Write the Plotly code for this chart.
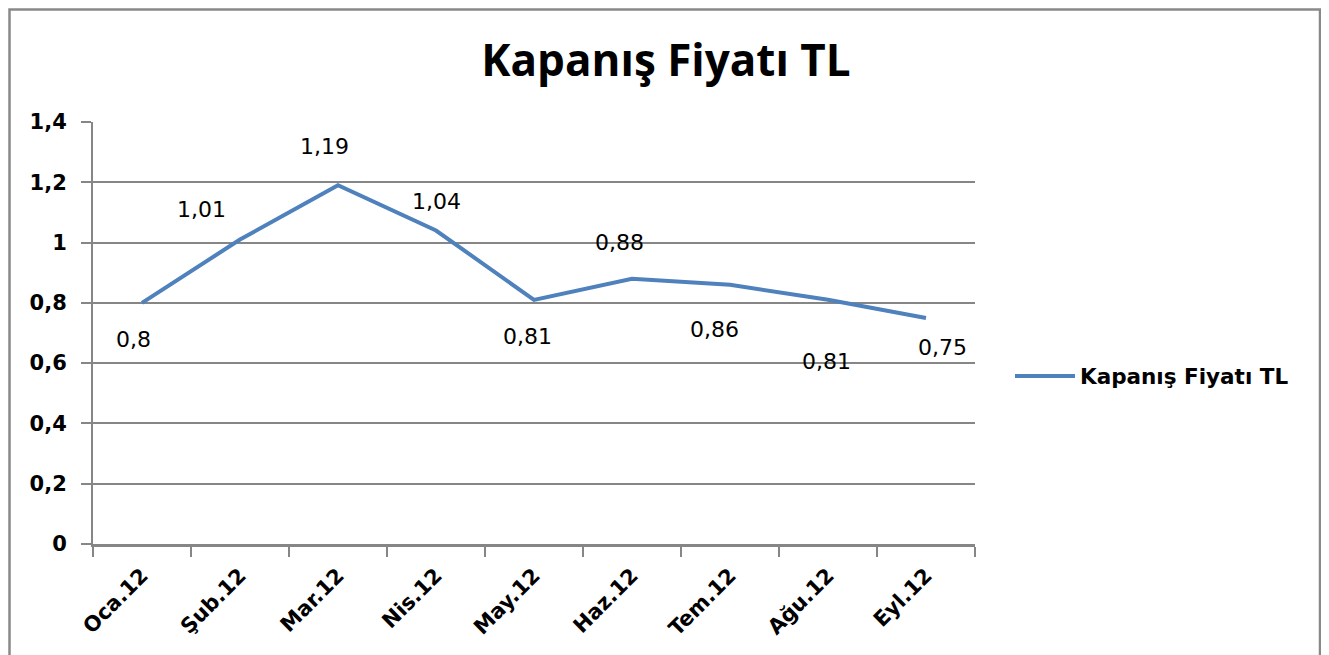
import plotly.graph_objects as go

months = ["Oca.12", "Şub.12", "Mar.12", "Nis.12", "May.12", "Haz.12", "Tem.12", "Ağu.12", "Eyl.12"]
prices = [0.80, 1.01, 1.19, 1.04, 0.81, 0.88, 0.86, 0.81, 0.75]
label_texts = ["0,8", "1,01", "1,19", "1,04", "0,81", "0,88", "0,86", "0,81", "0,75"]
series_name = "Kapanış Fiyatı TL"
title_text = "Kapanış Fiyatı TL"
y_ticks = [0, 0.2, 0.4, 0.6, 0.8, 1.0, 1.2, 1.4]

# data-label offsets in pixels (right / up) relative to each point
label_dx = [-9, -39, -14, 0, -7, -13, -16, -2, 16]
label_dy = [-37, 30, 39, 29, -37, 36, -45, -62, -30]

# page is offset by the 8px body margin
W, H = 1321, 647
L, T = 85, 114
pw, ph = 882, 422
R, B = W - L - pw, H - T - ph

lab_font = "DejaVu Sans"
title_font = "Open Sans"
grey = "#868686"

fig = go.Figure()
fig.add_trace(go.Scatter(
    x=months, y=prices, mode="lines", name="<b>" + series_name + "</b>",
    line=dict(color="#4F81BD", width=4),
))

for m, v, t, dx, dy in zip(months, prices, label_texts, label_dx, label_dy):
    fig.add_annotation(x=m, y=v, text=t, showarrow=False, xshift=dx, yshift=dy,
                       font=dict(family=lab_font, size=22, color="#000000"))

def px_x(x):
    return (x - 8 - L) / pw

def px_y(y):
    return (H - B - (y - 8)) / ph

# outer frame
fig.add_shape(type="rect", xref="paper", yref="paper",
              x0=px_x(9.5), x1=px_x(1320), y0=px_y(665), y1=px_y(9.5),
              line=dict(color="#898989", width=2.5), layer="below")

fig.update_layout(
    width=W, height=H,
    margin=dict(l=L, r=R, t=T, b=B, autoexpand=False),
    paper_bgcolor="white", plot_bgcolor="white",
    separators=",.",
    title=dict(text="<b>" + title_text + "</b>", x=(666 - 8) / W, xref="container", xanchor="center",
               y=1 - (61 - 8) / H, yref="container", yanchor="middle",
               font=dict(family=title_font, size=44, color="#000000")),
    showlegend=True,
    legend=dict(x=px_x(1010), xanchor="left", y=px_y(376), yanchor="middle",
                font=dict(family=lab_font, size=21.5, color="#000000"), itemwidth=60,
                bgcolor="rgba(0,0,0,0)"),
    xaxis=dict(type="category", tickson="boundaries", ticks="outside", ticklen=10,
               tickcolor=grey, tickwidth=2, showline=True, linecolor=grey, linewidth=2.5,
               showgrid=False, tickangle=-45,
               tickfont=dict(family=lab_font, size=21, color="#000000", weight="bold"),
               ticklabelstandoff=8,
               range=[-0.5, 8.5]),
    yaxis=dict(range=[0, 1.4], tickvals=y_ticks, ticks="outside", ticklen=10,
               tickcolor=grey, tickwidth=2, showline=True, linecolor=grey, linewidth=2,
               showgrid=True, gridcolor=grey, gridwidth=1.5, zeroline=False,
               tickfont=dict(family=lab_font, size=21, color="#000000", weight="bold"),
               ticklabelstandoff=10),
)

fig.write_html("out.html")
